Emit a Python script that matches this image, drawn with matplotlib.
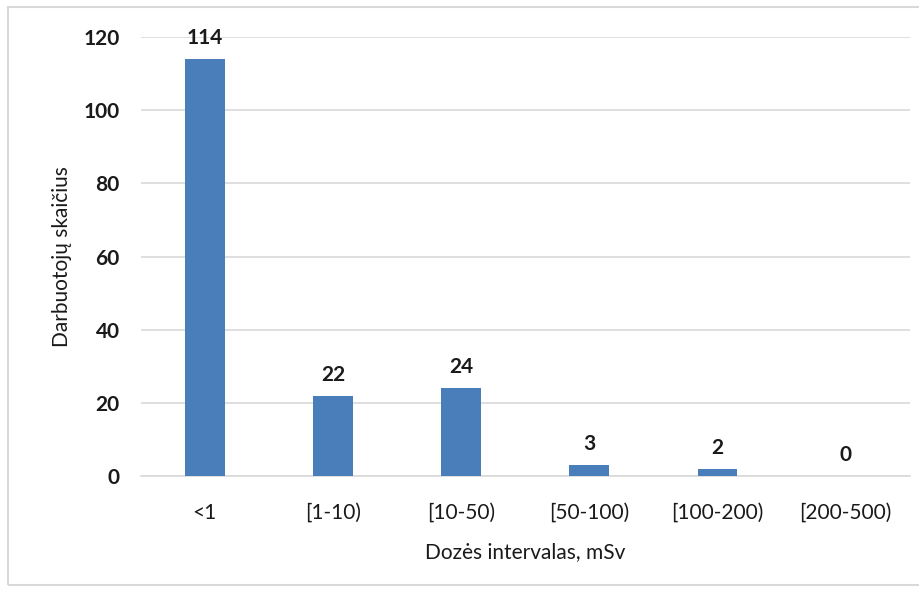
import matplotlib
matplotlib.use("Agg")
import matplotlib.pyplot as plt
from matplotlib.patches import Rectangle

categories = ["<1", "[1-10)", "[10-50)", "[50-100)", "[100-200)", "[200-500)"]
counts = [114, 22, 24, 3, 2, 0]
yticks = [0, 20, 40, 60, 80, 100, 120]

plt.rcParams['font.family'] = ['Lato', 'DejaVu Sans']

fig = plt.figure(figsize=(9.19, 5.9), dpi=100)
ax = fig.add_axes([0.153, 0.193, 0.837, 0.744])

x = range(len(categories))
bars = ax.bar(x, counts, width=0.31, color="#4A7EBB", zorder=3)
for xi, v in zip(x, counts):
    ax.text(xi, v + 3, str(v), ha="center", va="bottom", fontsize=15, fontweight="bold", color="#1a1a1a")

ax.set_xlim(-0.5, len(categories) - 0.5)
ax.set_ylim(0, 120)
ax.set_yticks(yticks)
ax.set_yticklabels([str(t) for t in yticks], fontsize=15, fontweight="bold", color="#1a1a1a")
ax.set_xticks(list(x))
ax.set_xticklabels(categories, fontsize=15, color="#1a1a1a")
ax.tick_params(axis="both", length=0)
ax.tick_params(axis="x", pad=19)
ax.tick_params(axis="y", pad=15)
ax.yaxis.grid(True, color="#D9D9D9", linewidth=1.2, zorder=0)
for s in ["top", "right", "left"]:
    ax.spines[s].set_visible(False)
ax.spines["bottom"].set_color("#D9D9D9")
ax.spines["bottom"].set_linewidth(1.2)

ax.set_xlabel("Dozės intervalas, mSv", fontsize=15, color="#1a1a1a", labelpad=14)
ax.set_ylabel("Darbuotojų skaičius", fontsize=15, color="#1a1a1a", labelpad=8)

# chart border
fig.patches.append(Rectangle((0.009, 0.008), 1.2, 0.98, transform=fig.transFigure,
                             fill=False, edgecolor="#D9D9D9", linewidth=1.5))

fig.savefig("out.png", dpi=100, facecolor="white")
